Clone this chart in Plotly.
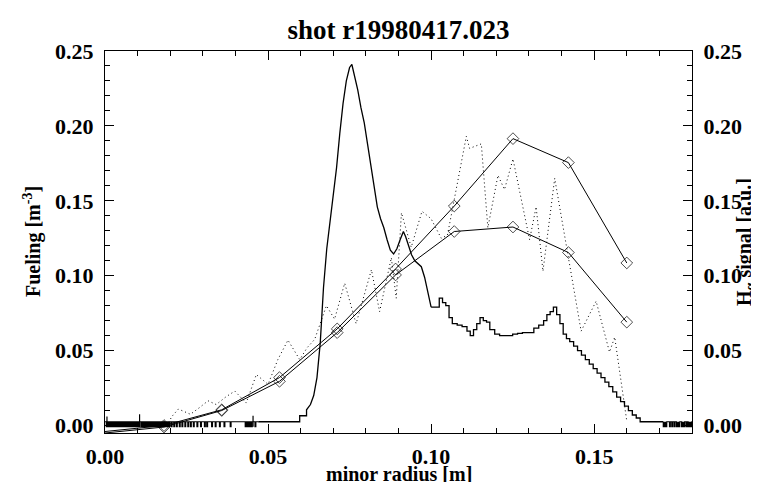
import plotly.graph_objects as go

# ---------------- data ----------------
# fueling profile: rising edge + main peak (solid)
peak_x = [0.0470, 0.0597, 0.0597, 0.0618, 0.0618, 0.0630, 0.0640, 0.0650, 0.0660, 0.0670,
          0.0680, 0.0690, 0.0700, 0.0710, 0.0720, 0.0730, 0.0740, 0.0750, 0.0757, 0.0765,
          0.0775, 0.0785, 0.0795, 0.0805, 0.0815, 0.0825, 0.0835, 0.0845, 0.0855, 0.0865,
          0.0875, 0.0885, 0.0895, 0.0905, 0.0915, 0.0922, 0.0930, 0.0940, 0.0950, 0.0960,
          0.0970, 0.0980, 0.0990, 0.1000]
peak_y = [0.0025, 0.0025, 0.0065, 0.0065, 0.0105, 0.0140, 0.0200, 0.0320, 0.0550, 0.0920,
          0.1180, 0.1350, 0.1520, 0.1720, 0.1950, 0.2150, 0.2300, 0.2390, 0.2410, 0.2340,
          0.2240, 0.2120, 0.2020, 0.1880, 0.1750, 0.1620, 0.1460, 0.1380, 0.1320, 0.1240,
          0.1170, 0.1145, 0.1180, 0.1240, 0.1295, 0.1260, 0.1200, 0.1140, 0.1100, 0.1080,
          0.1060, 0.0990, 0.0880, 0.0790]
# fueling profile: stepped outer part
tail_x = [0.1000, 0.1015, 0.1025, 0.1035, 0.1045, 0.1055, 0.1065, 0.1080, 0.1095, 0.1110,
          0.1120, 0.1130, 0.1140, 0.1150, 0.1160, 0.1170, 0.1180, 0.1195, 0.1210, 0.1230,
          0.1250, 0.1265, 0.1280, 0.1300, 0.1315, 0.1330, 0.1345, 0.1355, 0.1365, 0.1375,
          0.1385, 0.1395, 0.1405, 0.1415, 0.1425, 0.1437, 0.1449, 0.1461, 0.1473, 0.1485,
          0.1497, 0.1509, 0.1521, 0.1533, 0.1545, 0.1557, 0.1569, 0.1581, 0.1593, 0.1605,
          0.1617, 0.1629, 0.1641, 0.1712]
tail_y = [0.0790, 0.0790, 0.0850, 0.0820, 0.0800, 0.0720, 0.0680, 0.0670, 0.0660, 0.0630,
          0.0600, 0.0640, 0.0680, 0.0720, 0.0700, 0.0690, 0.0640, 0.0610, 0.0600, 0.0600,
          0.0610, 0.0615, 0.0620, 0.0620, 0.0650, 0.0670, 0.0700, 0.0740, 0.0760, 0.0790,
          0.0740, 0.0680, 0.0610, 0.0580, 0.0560, 0.0530, 0.0500, 0.0470, 0.0440, 0.0410,
          0.0380, 0.0350, 0.0320, 0.0290, 0.0260, 0.0225, 0.0190, 0.0160, 0.0130, 0.0100,
          0.0070, 0.0050, 0.0025, 0.0025]

# noisy baseline of the fueling signal (positions of the dips)
noise_left_x = [0.0004, 0.0008, 0.0013, 0.0017, 0.0021, 0.0026, 0.0031, 0.0035, 0.0040, 0.0044,
                0.0049, 0.0054, 0.0058, 0.0063, 0.0067, 0.0072, 0.0076, 0.0081, 0.0086, 0.0090,
                0.0095, 0.0100, 0.0104, 0.0111, 0.0115, 0.0120, 0.0124, 0.0129, 0.0133, 0.0138,
                0.0142, 0.0147, 0.0152, 0.0156, 0.0161, 0.0166, 0.0170, 0.0175, 0.0180, 0.0185,
                0.0190, 0.0196, 0.0203, 0.0211, 0.0219, 0.0228, 0.0236, 0.0245, 0.0254, 0.0262,
                0.0271, 0.0282, 0.0293, 0.0305, 0.0312, 0.0327, 0.0338, 0.0351, 0.0365, 0.0384,
                0.0430, 0.0434, 0.0439, 0.0445, 0.0449, 0.0460]
noise_up_x = [0.0006, 0.0106, 0.0454]
noise_up_y = [0.0060, 0.0075, 0.0065]
noise_right_x = [0.1712, 0.1716, 0.1720, 0.1731, 0.1738, 0.1745, 0.1752, 0.1756, 0.1760,
                 0.1768, 0.1772, 0.1775, 0.1782, 0.1788, 0.1791, 0.1794, 0.1797]
base_level = 0.0025
low_level = -0.0008

# H-alpha signal (dotted)
ha_x = [0.0195, 0.0205, 0.0225, 0.0245, 0.0262, 0.0290, 0.0316, 0.0341, 0.0370, 0.0398,
        0.0433, 0.0464, 0.0500, 0.0530, 0.0561, 0.0597, 0.0620, 0.0643, 0.0679, 0.0704,
        0.0735, 0.0770, 0.0817, 0.0842, 0.0878, 0.0893, 0.0909, 0.0939, 0.0972, 0.1000,
        0.1031, 0.1050, 0.1108, 0.1118, 0.1154, 0.1174, 0.1205, 0.1225, 0.1251, 0.1302,
        0.1322, 0.1343, 0.1379, 0.1460, 0.1506, 0.1547, 0.1563, 0.1600]
ha_y = [0.0020, 0.0060, 0.0110, 0.0090, 0.0075, 0.0120, 0.0165, 0.0140, 0.0190, 0.0230,
        0.0150, 0.0340, 0.0275, 0.0440, 0.0570, 0.0440, 0.0520, 0.0575, 0.0800, 0.0710,
        0.0950, 0.0680, 0.1040, 0.0760, 0.1120, 0.0850, 0.1420, 0.1190, 0.1430, 0.1380,
        0.1250, 0.1270, 0.1930, 0.1850, 0.1880, 0.1320, 0.1670, 0.1575, 0.1780, 0.1240,
        0.1460, 0.1030, 0.1650, 0.0630, 0.0830, 0.0490, 0.0590, 0.0030]

# model profiles (diamonds)
model_x = [0.0000, 0.0181, 0.0358, 0.0535, 0.0712, 0.0891, 0.1071, 0.1251, 0.1421, 0.1600]
model_a = [-0.0040, 0.0000, 0.0105, 0.0320, 0.0645, 0.1045, 0.1465, 0.1915, 0.1755, 0.1085]
model_b = [-0.0050, -0.0010, 0.0100, 0.0295, 0.0620, 0.1005, 0.1295, 0.1325, 0.1155, 0.0690]

x_ticks = [0.00, 0.05, 0.10, 0.15]
y_ticks = [0.00, 0.05, 0.10, 0.15, 0.20, 0.25]

title_text = "shot r19980417.023"
x_title = "minor radius [m]"
y_title = "Fueling [m<sup>-3</sup>]"
y2_title = "H<sub>α</sub> signal [a.u.]"

# ---------------- build noisy baseline traces ----------------
nx, ny = [0.0], [base_level]
for xv in noise_left_x:
    nx += [xv, xv, xv + 0.00025, xv + 0.00025]
    ny += [base_level, low_level, low_level, base_level]
nx.append(peak_x[0])
ny.append(base_level)

ux, uy = [], []
for xv, yv in zip(noise_up_x, noise_up_y):
    ux += [xv, xv, None]
    uy += [low_level, yv, None]

rx, ry = [tail_x[-1]], [base_level]
for xv in noise_right_x:
    rx += [xv, xv, xv + 0.00025, xv + 0.00025]
    ry += [base_level, low_level, low_level, base_level]
rx.append(0.18)
ry.append(base_level)

FONT = "Liberation Serif"
black = "black"

# plot-area geometry in pixels
W, H = 759, 482
L, R, T, B = 97, 75, 43, 57
PW, PH = W - L - R, H - T - B

fig = go.Figure()
line_style = dict(color=black, width=1.2)

fig.add_trace(go.Scatter(x=nx, y=ny, mode="lines", line=line_style, showlegend=False))
fig.add_trace(go.Scatter(x=ux, y=uy, mode="lines", line=line_style, showlegend=False))
fig.add_trace(go.Scatter(x=peak_x, y=peak_y, mode="lines",
                         line=dict(color=black, width=1.3), showlegend=False))
fig.add_trace(go.Scatter(x=tail_x, y=tail_y, mode="lines",
                         line=dict(color=black, width=1.3, shape="hv"), showlegend=False))
fig.add_trace(go.Scatter(x=rx, y=ry, mode="lines", line=line_style, showlegend=False))

fig.add_trace(go.Scatter(x=ha_x, y=ha_y, mode="lines", yaxis="y2",
                         line=dict(color=black, width=1, dash="1px,3px"), showlegend=False))

msizes = [0] + [9] * (len(model_x) - 1)
for ys in (model_a, model_b):
    fig.add_trace(go.Scatter(x=model_x, y=ys, mode="lines+markers",
                             line=dict(color=black, width=1),
                             marker=dict(symbol="diamond-open", size=msizes,
                                         color=black, line=dict(width=1, color=black)),
                             showlegend=False))

tickfont = dict(family=FONT, size=22, color=black, weight="bold")
axfont = dict(family=FONT, size=20, color=black, weight="bold")

common_y = dict(range=[-0.005, 0.25], tickvals=y_ticks, tickformat=".2f",
                ticks="inside", ticklen=9, tickwidth=1, tickcolor=black,
                minor=dict(dtick=0.01, tick0=0, ticks="inside", ticklen=5,
                           tickwidth=1, tickcolor=black),
                showline=True, linecolor=black, linewidth=1,
                showgrid=False, zeroline=False, tickfont=tickfont,
                ticklabelstandoff=6)

fig.update_layout(
    width=W, height=H,
    margin=dict(l=L, r=R, t=T, b=B),
    paper_bgcolor="white", plot_bgcolor="white",
    title=dict(text="<b>" + title_text + "</b>", x=0.5, xref="paper",
               y=1 - 22 / H, yref="container", yanchor="middle", xanchor="center",
               font=dict(family=FONT, size=27, color=black)),
    xaxis=dict(range=[0, 0.18], tickvals=x_ticks, tickformat=".2f",
               ticks="inside", ticklen=9, tickwidth=1, tickcolor=black,
               minor=dict(dtick=0.01, tick0=0, ticks="inside", ticklen=5,
                          tickwidth=1, tickcolor=black),
               showline=True, linecolor=black, linewidth=1, mirror="ticks",
               showgrid=False, zeroline=False, tickfont=tickfont,
               ticklabelstandoff=4),
    yaxis=dict(**common_y),
    yaxis2=dict(**common_y, overlaying="y", side="right"),
)

# axis titles placed at the reference positions
fig.add_annotation(text=x_title, xref="paper", yref="paper",
                   x=0.5, y=-(466 - (T + PH)) / PH, xanchor="center", yanchor="middle",
                   showarrow=False, font=axfont)
fig.add_annotation(text=y_title, xref="paper", yref="paper",
                   x=-(L - 24) / PW, y=0.5, xanchor="center", yanchor="middle",
                   textangle=-90, showarrow=False, font=axfont)
fig.add_annotation(text=y2_title, xref="paper", yref="paper",
                   x=(737 - L) / PW, y=0.5, xanchor="center", yanchor="middle",
                   textangle=-90, showarrow=False, font=axfont)

fig.write_html("out.html")
